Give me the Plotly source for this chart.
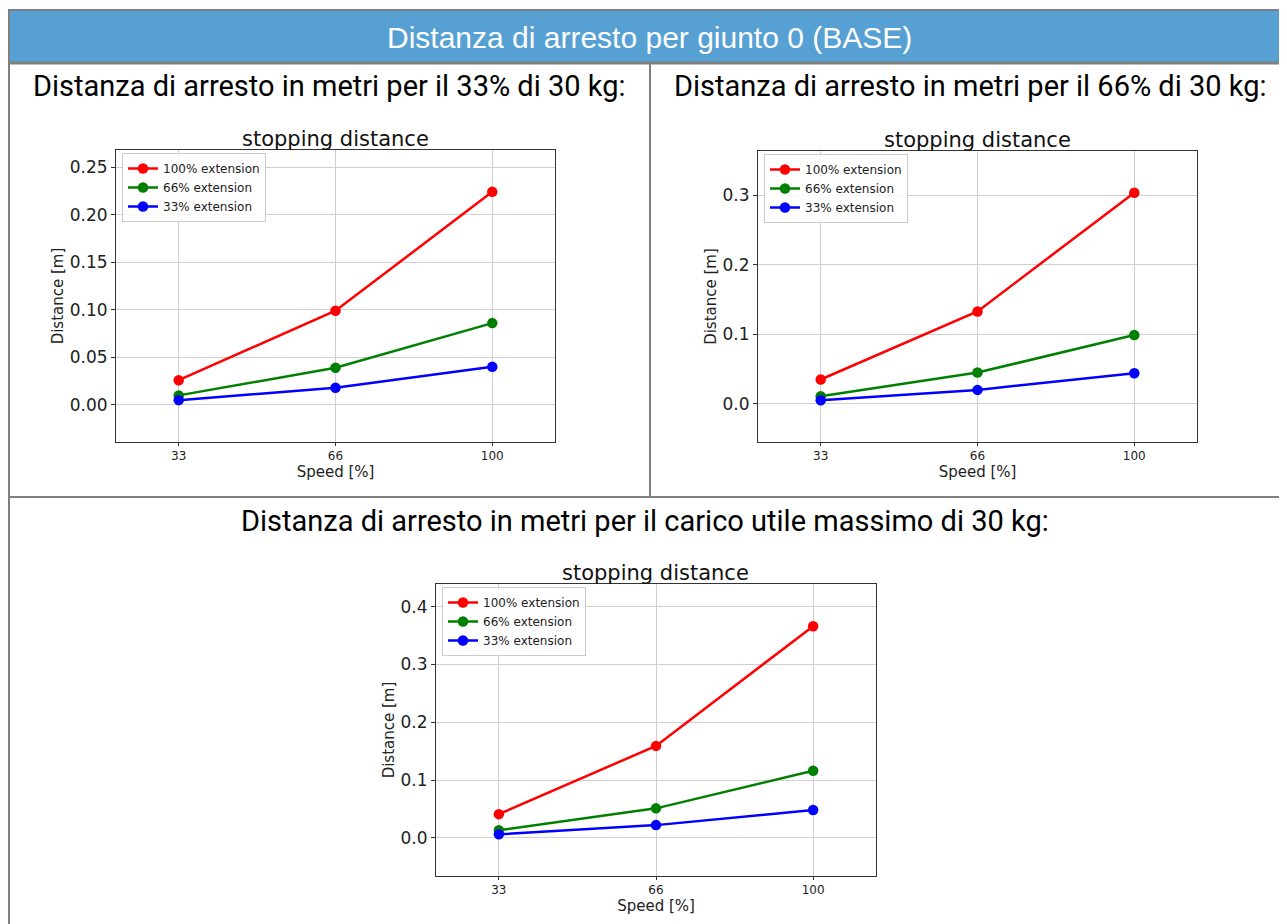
import plotly.graph_objects as go

# the page body keeps an 8 px margin, so the figure starts at (8, 8)
OFF = 8
W, H = 1287 - OFF, 924 - OFF

speeds = ["33", "66", "100"]
series_names = ["100% extension", "66% extension", "33% extension"]
series_colors = ["#ff0000", "#008000", "#0000ff"]

# stopping distance [m], one list per extension, per payload case
dist_33 = [
    [0.026, 0.099, 0.224],
    [0.010, 0.039, 0.086],
    [0.005, 0.018, 0.040],
]
dist_66 = [
    [0.035, 0.133, 0.304],
    [0.011, 0.045, 0.099],
    [0.005, 0.020, 0.044],
]
dist_max = [
    [0.041, 0.159, 0.366],
    [0.013, 0.051, 0.116],
    [0.006, 0.022, 0.048],
]

main_title = "Distanza di arresto per giunto 0 (BASE)"
cell_titles = [
    "Distanza di arresto in metri per il 33% di 30 kg:",
    "Distanza di arresto in metri per il 66% di 30 kg:",
    "Distanza di arresto in metri per il carico utile massimo di 30 kg:",
]
plot_title = "stopping distance"


def px(x):
    return (x - OFF) / W


def py(y):
    return 1 - (y - OFF) / H


# (data, pixel box l, t, r, b, y range, y tick step, tick format)
panels = [
    (dist_33, (116, 150, 555, 442), [-0.039, 0.268], 0.05, ".2f"),
    (dist_66, (758, 151, 1197, 442), [-0.055, 0.364], 0.1, ".1f"),
    (dist_max, (436, 584, 876, 876), [-0.066, 0.439], 0.1, ".1f"),
]

fig = go.Figure()
layout = dict(
    width=W,
    height=H,
    margin=dict(l=0, r=0, t=0, b=0),
    paper_bgcolor="white",
    plot_bgcolor="white",
    font=dict(family="DejaVu Sans", color="#222222"),
    shapes=[],
    annotations=[],
)

for i, (data, (l, t, r, b), yr, step, fmt) in enumerate(panels):
    n = "" if i == 0 else str(i + 1)
    leg = "legend" + n
    for name, color, vals in zip(series_names, series_colors, data):
        fig.add_trace(
            go.Scatter(
                x=speeds,
                y=vals,
                name=name,
                mode="lines+markers",
                line=dict(color=color, width=2.5),
                marker=dict(color=color, size=10.5),
                xaxis="x" + n,
                yaxis="y" + n,
                legend=leg,
            )
        )
    layout["xaxis" + n] = dict(
        domain=[px(l), px(r)],
        anchor="y" + n,
        type="category",
        range=[-0.4, 2.4],
        showgrid=True,
        gridcolor="#d0d0d0",
        gridwidth=1,
        showline=True,
        linecolor="#333333",
        linewidth=1,
        mirror=True,
        ticks="outside",
        ticklen=3,
        tickcolor="#333333",
        tickfont=dict(size=12),
        title=dict(text="Speed [%]", font=dict(size=15), standoff=0),
        zeroline=False,
    )
    layout["yaxis" + n] = dict(
        domain=[py(b), py(t)],
        anchor="x" + n,
        range=yr,
        dtick=step,
        tick0=0,
        tickformat=fmt,
        showgrid=True,
        gridcolor="#d0d0d0",
        gridwidth=1,
        showline=True,
        linecolor="#333333",
        linewidth=1,
        mirror=True,
        ticks="outside",
        ticklen=4,
        tickcolor="#333333",
        tickfont=dict(size=17),
        title=dict(text="Distance [m]", font=dict(size=15), standoff=2),
        zeroline=False,
    )
    layout[leg] = dict(
        x=px(l + 6),
        y=py(t + 3),
        xanchor="left",
        yanchor="top",
        bgcolor="rgba(255,255,255,0.85)",
        bordercolor="#cccccc",
        borderwidth=1,
        font=dict(size=12, family="DejaVu Sans"),
        tracegroupgap=0,
        itemwidth=30,
    )
    layout["annotations"].append(
        dict(
            text=plot_title,
            x=px((l + r) / 2),
            y=py(t + 3),
            xref="paper",
            yref="paper",
            xanchor="center",
            yanchor="bottom",
            showarrow=False,
            font=dict(size=21, family="DejaVu Sans", color="#111111"),
        )
    )

# page frame: blue header band and grey cell borders
gray = "#808080"
layout["shapes"] += [
    dict(type="rect", xref="paper", yref="paper", x0=px(8), x1=1.01, y0=py(63), y1=py(10),
         fillcolor="#56a0d3", line=dict(width=0), layer="below"),
    dict(type="line", xref="paper", yref="paper", x0=px(7), x1=1.01, y0=py(10), y1=py(10),
         line=dict(color=gray, width=2)),
    dict(type="line", xref="paper", yref="paper", x0=px(7), x1=1.01, y0=py(63), y1=py(63),
         line=dict(color=gray, width=3)),
    dict(type="line", xref="paper", yref="paper", x0=px(9), x1=px(9), y0=py(9), y1=-0.01,
         line=dict(color=gray, width=2)),
    dict(type="line", xref="paper", yref="paper", x0=px(650), x1=px(650), y0=py(64), y1=py(497),
         line=dict(color=gray, width=2)),
    dict(type="line", xref="paper", yref="paper", x0=px(8), x1=1.01, y0=py(497), y1=py(497),
         line=dict(color=gray, width=2)),
]

layout["annotations"] += [
    dict(text=main_title, x=px(649), y=py(37), xref="paper", yref="paper",
         xanchor="center", yanchor="middle", showarrow=False,
         font=dict(size=30, family="Liberation Sans Narrow, Arial Narrow, Liberation Sans", color="white")),
    dict(text=cell_titles[0], x=px(329), y=py(86), xref="paper", yref="paper",
         xanchor="center", yanchor="middle", showarrow=False,
         font=dict(size=29, family="Roboto", color="black")),
    dict(text=cell_titles[1], x=px(970), y=py(86), xref="paper", yref="paper",
         xanchor="center", yanchor="middle", showarrow=False,
         font=dict(size=29, family="Roboto", color="black")),
    dict(text=cell_titles[2], x=px(645), y=py(521), xref="paper", yref="paper",
         xanchor="center", yanchor="middle", showarrow=False,
         font=dict(size=29, family="Roboto", color="black")),
]

fig.update_layout(**layout)
fig.write_html("out.html")
